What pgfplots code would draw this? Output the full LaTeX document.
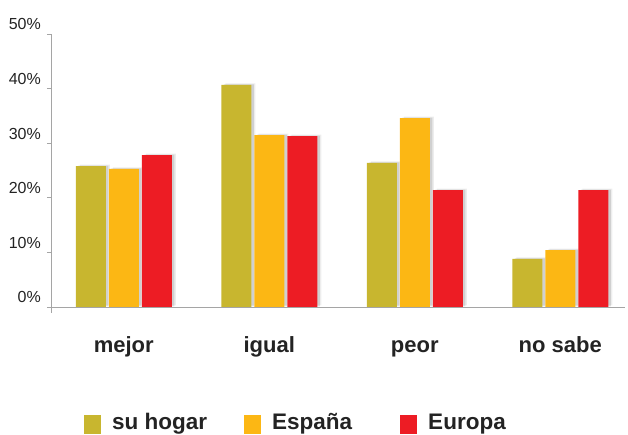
\documentclass[border=0pt]{standalone}
\usepackage{pgfplots}
\pgfplotsset{compat=1.18}
\usetikzlibrary{shadows}
\usepackage{fontspec}
\setmainfont{Liberation Sans}
\definecolor{suhogar}{RGB}{200,182,47}
\definecolor{espana}{RGB}{252,183,20}
\definecolor{europa}{RGB}{237,28,36}
\definecolor{txt}{RGB}{35,35,35}
\definecolor{axgray}{RGB}{165,165,165}
\begin{document}
\begin{tikzpicture}[x=1pt,y=1pt]
\path[use as bounding box] (0,0) rectangle (628,435);
\begin{axis}[
  at={(51pt,122pt)}, anchor=south west,
  scale only axis, width=574pt, height=279pt,
  xmin=-0.5, xmax=3.445, ymin=-1.1, ymax=50,
  ybar, bar width=30pt,
  axis y line=left, axis x line*=bottom,
  x axis line style={draw=none},
  y axis line style={draw=axgray, line width=0.8pt, -},
  xtick={0,1,2,3}, xticklabels={mejor,igual,peor,no sabe},
  xtick style={draw=none},
  xticklabel style={anchor=base, yshift=-36pt, font=\fontsize{22}{25}\selectfont\bfseries, text=txt},
  ytick={0,10,20,30,40,50},
  yticklabels={0\%,10\%,20\%,30\%,40\%,50\%},
  ytick style={draw=axgray, line width=0.8pt},
  tick align=outside, major tick length=4pt,
  yticklabel style={anchor=base east, inner sep=0pt, xshift=-6pt, yshift=4pt, font=\fontsize{16}{19}\selectfont, text=txt},
  legend columns=3,
  legend image code/.code={\path[#1, draw=none] (0pt,-4pt) rectangle (17pt,15pt);},
  legend style={at={(axis description cs:0.0575,-0.396)}, anchor=west, draw=none, fill=none, inner sep=0pt,
    font=\fontsize{22.5}{25}\selectfont\bfseries, text=txt,
    nodes={inner sep=0pt, anchor=base},
    /tikz/every odd column/.style={column sep=11pt},
    /tikz/column 2/.style={column sep=37pt},
    /tikz/column 4/.style={column sep=48pt}},
  clip=false,
  shbar/.style={draw=none, forget plot,
    drop shadow={shadow xshift=4pt, shadow yshift=1.5pt, opacity=0.07, fill=black},
    drop shadow={shadow xshift=2.5pt, shadow yshift=0.5pt, opacity=0.12, fill=black}},
]
\addplot[fill=suhogar, shbar, bar shift=-33pt] coordinates {(0,25.8) (1,40.7) (2,26.4) (3,8.8)};
\addplot[fill=espana, shbar, bar shift=0pt] coordinates {(0,25.3) (1,31.5) (2,34.6) (3,10.4)};
\addplot[fill=europa, shbar, bar shift=33pt] coordinates {(0,27.8) (1,31.3) (2,21.4) (3,21.4)};
\addlegendimage{fill=suhogar, draw=none}
\addlegendimage{fill=espana, draw=none}
\addlegendimage{fill=europa, draw=none}
\legend{su hogar, España, Europa}
\draw[axgray, line width=0.8pt] (axis cs:-0.5,0) -- (axis cs:3.445,0);
\end{axis}
\end{tikzpicture}
\end{document}
